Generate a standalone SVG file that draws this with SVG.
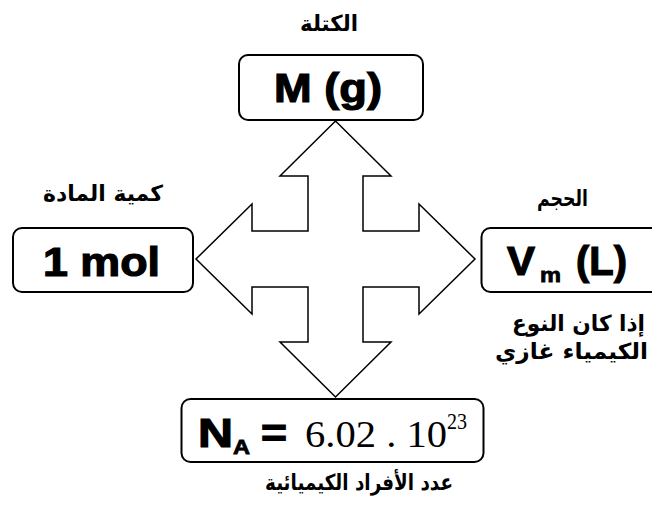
<svg xmlns="http://www.w3.org/2000/svg" width="652" height="516" viewBox="0 0 652 516">
<style>
.box{fill:#fff;stroke:#000;stroke-width:2}
.lat{font-family:"Liberation Sans",Arial,sans-serif;font-weight:bold;font-size:40px;fill:#000;stroke:#000;stroke-width:1.2}
.ar{font-family:"DejaVu Sans","Noto Sans",sans-serif;font-weight:bold;font-size:22px;fill:#000;text-anchor:middle}
.tm{font-family:"Liberation Serif","Times New Roman",serif;fill:#000}
.arrow{fill:#fff;stroke:#000;stroke-width:1.5;stroke-linejoin:miter}
</style>
<rect width="652" height="516" fill="#fff"/>
<g id="connectors">
<polygon class="arrow" points="335.5,121 391,176 363,176 363,231 419,231 419,204 475,259 419,314 419,287 363,287 363,342 391,342 335.5,397 280,342 308,342 308,287 252,287 252,314 196,259 252,204 252,231 308,231 308,176 280,176"/>
</g>
<g id="node-mass">
<text class="ar" x="329" y="31" direction="rtl" textLength="58" lengthAdjust="spacingAndGlyphs">الكتلة</text>
<rect class="box" x="239" y="55" width="184" height="65" rx="9"/>
<text class="lat" x="274" y="101.5" textLength="108" lengthAdjust="spacingAndGlyphs">M (g)</text>
</g>
<g id="node-mol">
<text class="ar" x="103" y="201" direction="rtl" textLength="120" lengthAdjust="spacingAndGlyphs">كمية المادة</text>
<rect class="box" x="13" y="228" width="180" height="64" rx="9"/>
<text class="lat" x="43" y="276" textLength="117" lengthAdjust="spacingAndGlyphs">1 mol</text>
</g>
<g id="node-volume">
<text class="ar" x="562.5" y="206" direction="rtl" textLength="51" lengthAdjust="spacingAndGlyphs">الحجم</text>
<rect class="box" x="481.5" y="228" width="190" height="64" rx="9"/>
<text class="lat" x="507" y="274.5" textLength="28" lengthAdjust="spacingAndGlyphs">V</text>
<text class="lat" x="540" y="282" style="font-size:21px;stroke-width:0.8" textLength="21" lengthAdjust="spacingAndGlyphs">m</text>
<text class="lat" x="576" y="274.5" textLength="51" lengthAdjust="spacingAndGlyphs">(L)</text>
<text class="ar" x="578.5" y="331" direction="rtl" textLength="133" lengthAdjust="spacingAndGlyphs">إذا كان النوع</text>
<text class="ar" x="571.5" y="359" direction="rtl" textLength="153" lengthAdjust="spacingAndGlyphs">الكيمياء غازي</text>
</g>
<g id="node-avogadro">
<rect class="box" x="181.5" y="399" width="302" height="63" rx="9"/>
<text class="lat" x="198" y="446.5" textLength="35" lengthAdjust="spacingAndGlyphs">N</text>
<text class="lat" x="233" y="453.5" style="font-size:20px;stroke-width:0.8" textLength="17" lengthAdjust="spacingAndGlyphs">A</text>
<text class="lat" x="261" y="446.5" textLength="26" lengthAdjust="spacingAndGlyphs">=</text>
<text class="tm" x="305" y="446.5" style="font-size:38px" textLength="142" lengthAdjust="spacingAndGlyphs">6.02 . 10</text>
<text class="tm" x="447" y="428.5" style="font-size:24px" textLength="20" lengthAdjust="spacingAndGlyphs">23</text>
<text class="ar" x="359" y="490" direction="rtl" textLength="188" lengthAdjust="spacingAndGlyphs">عدد الأفراد الكيميائية</text>
</g>
</svg>
